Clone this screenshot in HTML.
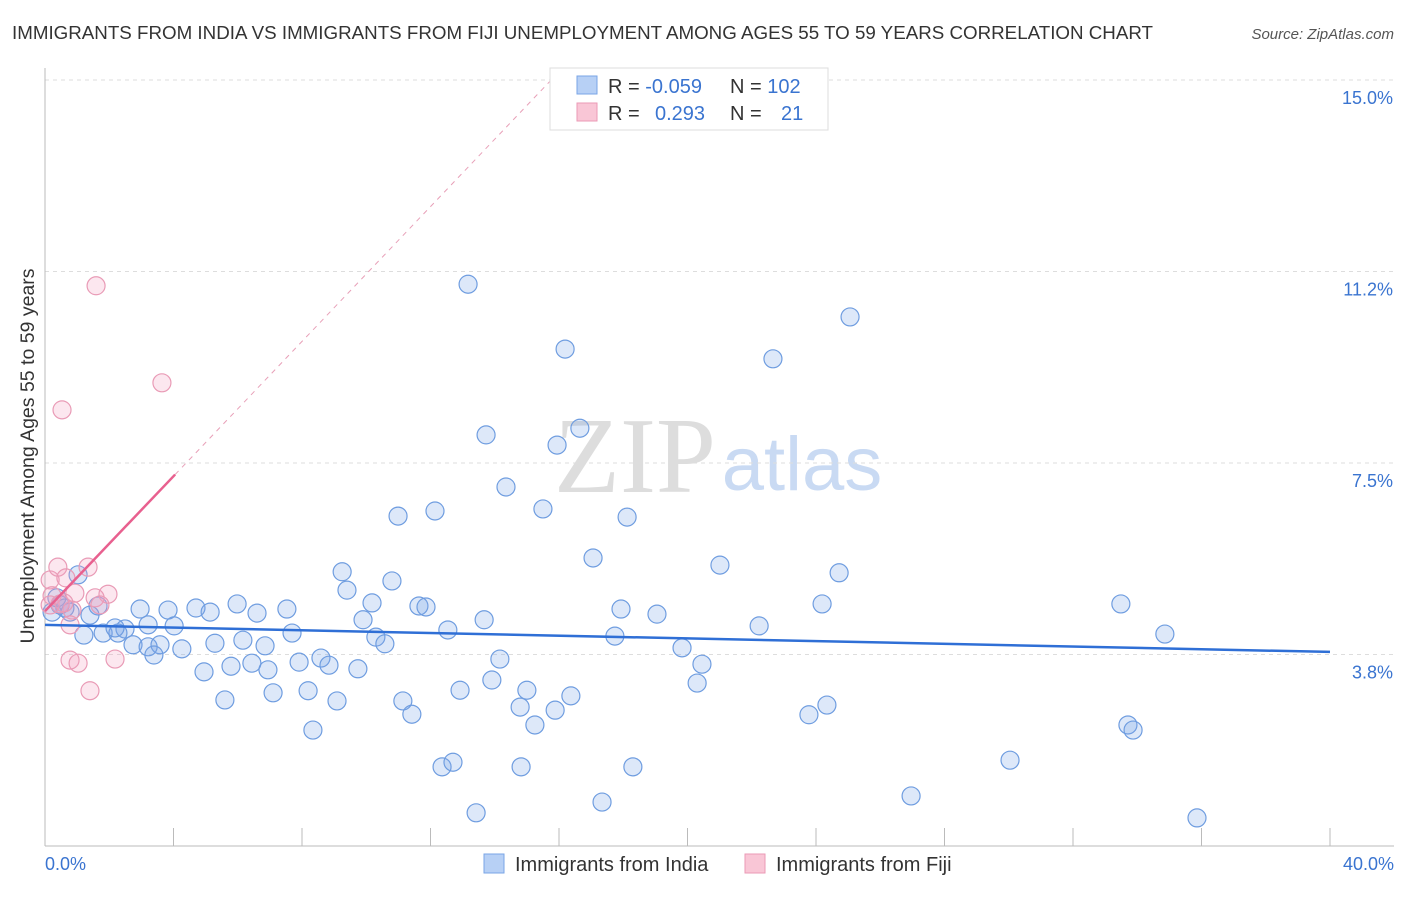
<!DOCTYPE html>
<html><head><meta charset="utf-8"><style>
body{margin:0;background:#fff;font-family:"Liberation Sans",sans-serif}
</style></head><body>
<svg id="chart" width="1406" height="892" xmlns="http://www.w3.org/2000/svg">
<text x="12" y="39" font-size="18" fill="#333" textLength="1141" lengthAdjust="spacingAndGlyphs">IMMIGRANTS FROM INDIA VS IMMIGRANTS FROM FIJI UNEMPLOYMENT AMONG AGES 55 TO 59 YEARS CORRELATION CHART</text>
<text x="1394" y="39" font-size="15" fill="#555" font-style="italic" text-anchor="end">Source: ZipAtlas.com</text>
<text x="635" y="492" font-size="108" fill="#ddd" font-family="Liberation Serif,serif" text-anchor="middle">ZIP</text>
<text x="802" y="490" font-size="76" fill="#c9daf3" text-anchor="middle">atlas</text>
<g id="grid"></g><g id="axes"></g><g id="pts"></g><g id="trends"></g>
<text transform="translate(34,456) rotate(-90)" font-size="19.5" fill="#333" text-anchor="middle">Unemployment Among Ages 55 to 59 years</text>
<g>
<rect x="550" y="68" width="278" height="62" fill="#fff" stroke="#ddd"/>
<rect x="577" y="76" width="20" height="18" fill="#b7d0f5" stroke="#7aa5e6"/>
<rect x="577" y="103" width="20" height="18" fill="#f9c6d6" stroke="#eb9ab6"/>
<text x="608" y="93" font-size="20" fill="#333">R = <tspan fill="#3a74d0">-0.059</tspan><tspan x="730">N = </tspan><tspan fill="#3a74d0">102</tspan></text>
<text x="608" y="120" font-size="20" fill="#333">R = <tspan x="655" fill="#3a74d0">0.293</tspan><tspan x="730">N = </tspan><tspan x="781" fill="#3a74d0">21</tspan></text>
</g>
<g>
<rect x="484" y="854" width="20" height="19" fill="#b7d0f5" stroke="#7aa5e6"/>
<text x="515" y="871" font-size="20" fill="#333">Immigrants from India</text>
<rect x="745" y="854" width="20" height="19" fill="#f9c6d6" stroke="#eb9ab6"/>
<text x="776" y="871" font-size="20" fill="#333">Immigrants from Fiji</text>
</g>
</svg>
<script>
const yTicks=[3.8,7.5,11.2,15.0];
const yTickValues=[3.75,7.5,11.25,15];
const xTickLabels=["0.0%","40.0%"];
const indiaX=[13.17,25.06,16.19,22.66,13.73,15.94,16.65,14.35,15.50,10.99,12.14,18.12,17.06,21.01,24.72,9.25,10.80,9.40,10.18,11.64,11.86,13.67,9.90,12.54,10.30,10.58,7.69,6.85,6.16,5.29,4.26,4.95,5.79,6.44,6.94,7.91,8.59,8.84,9.74,7.10,5.60,8.19,9.09,11.14,11.42,12.92,13.91,14.16,15.00,14.79,15.88,16.37,15.25,8.34,12.36,12.70,14.82,17.34,18.30,13.42,17.74,17.93,19.05,19.83,20.45,20.30,22.23,24.19,23.78,24.34,26.96,30.04,33.49,34.86,33.71,33.87,35.86,2.96,3.83,4.70,5.14,5.98,6.60,7.53,4.02,3.21,2.49,1.81,2.27,1.21,2.74,3.21,3.58,3.39,0.22,0.47,0.78,1.65,1.03,0.62,1.40,2.18,0.37];
const indiaY=[11.00,10.36,9.73,9.54,8.05,7.85,8.18,7.03,6.60,6.46,6.56,6.44,5.64,5.50,5.35,5.37,5.19,5.01,4.76,4.70,4.68,4.43,4.43,4.23,4.09,3.96,4.17,3.92,4.03,3.97,3.86,3.41,3.52,3.58,3.45,3.60,3.68,3.54,3.47,3.00,2.86,3.04,2.84,2.84,2.58,3.05,3.25,3.66,3.05,2.72,2.66,2.94,2.37,2.27,1.55,1.64,1.55,0.86,1.55,0.65,4.11,4.64,4.54,3.88,3.56,3.19,4.31,4.74,2.57,2.76,0.98,1.68,4.74,4.15,2.37,2.27,0.55,4.64,4.62,4.66,4.58,4.74,4.56,4.64,4.31,4.33,4.25,4.17,4.17,4.13,3.94,3.90,3.94,3.74,4.58,4.72,4.58,4.70,5.31,4.66,4.52,4.27,4.86];
const fijiX=[1.59,3.64,0.53,0.16,0.40,0.65,1.34,1.96,0.93,0.22,0.16,0.47,0.84,1.56,1.71,0.78,0.78,1.03,2.18,1.40,0.59];
const fijiY=[10.97,9.07,8.54,5.21,5.46,5.25,5.46,4.93,4.95,4.90,4.72,4.74,4.62,4.86,4.72,4.33,3.64,3.58,3.66,3.04,4.76];
const indiaTrend=[4.33,3.80];
const fijiTrend=[4.60,0.66];

const NS="http://www.w3.org/2000/svg";
const X=v=>45+v/40*1285, Y=v=>846-v*51.07;
function mk(tag,attrs,parent){const e=document.createElementNS(NS,tag);for(const k in attrs)e.setAttribute(k,attrs[k]);document.getElementById(parent).appendChild(e);return e;}
yTickValues.forEach((v,i)=>{
 const g=mk('line',{x1:45,x2:1394,y1:Y(v),y2:Y(v),stroke:'#ddd','stroke-dasharray':'4,4'},'grid');
 
 
 const t=mk('text',{x:1393,y:Y(v)+24,'font-size':18,fill:'#3a74d0','text-anchor':'end'},'axes');
 t.textContent=yTicks[i].toFixed(1)+'%';
 
 
});
const ax=mk('line',{x1:45,x2:45,y1:68,y2:846,stroke:'#bbb'},'axes');


const bx=mk('line',{x1:45,x2:1394,y1:846,y2:846,stroke:'#bbb'},'axes');


for(let i=1;i<=10;i++){const t=mk('line',{x1:X(i*4),x2:X(i*4),y1:828,y2:846,stroke:'#bbb'},'axes');
 
 }
[[0,'start',45],[40,'end',1394]].forEach((d,i)=>{const t=mk('text',{x:d[2],y:870,'font-size':18,fill:'#3a74d0','text-anchor':d[1]},'axes');t.textContent=xTickLabels[i];
 
 });
indiaX.forEach((x,i)=>{const c=mk('circle',{cx:X(x),cy:Y(indiaY[i]),r:9,fill:'rgba(120,165,230,0.25)',stroke:'#6f9de0','stroke-width':1.2},'pts');
 
 });
fijiX.forEach((x,i)=>{const c=mk('circle',{cx:X(x),cy:Y(fijiY[i]),r:9,fill:'rgba(245,160,190,0.25)',stroke:'#e99bb6','stroke-width':1.2},'pts');
 
 });
const bl=mk('line',{x1:X(0),y1:Y(indiaTrend[0]),x2:X(40),y2:Y(indiaTrend[1]),stroke:'#2f6fd6','stroke-width':2.5},'trends');


const fe=4.05, fy=v=>fijiTrend[0]+fijiTrend[1]*v, xTop=(15.1-fijiTrend[0])/fijiTrend[1];
const pd=mk('line',{x1:X(fe),y1:Y(fy(fe)),x2:X(xTop),y2:Y(fy(xTop)),stroke:'#e8a0b8','stroke-width':1,'stroke-dasharray':'5,5'},'trends');


const pl=mk('line',{x1:X(0),y1:Y(fy(0)),x2:X(fe),y2:Y(fy(fe)),stroke:'#e8608f','stroke-width':2.5},'trends');


</script>
</body></html>
